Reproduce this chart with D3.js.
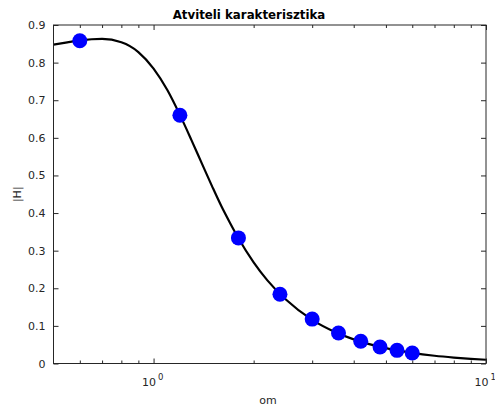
<!DOCTYPE html>
<html>
<head>
<meta charset="utf-8">
<script src="https://cdn.jsdelivr.net/npm/d3@7"></script>
<style>
  body { margin: 0; background: #fff; }
  svg text { font-family: "DejaVu Sans", sans-serif; }
</style>
</head>
<body>
<svg width="495" height="407"></svg>
<script>
// frequency response curve
var curveOm = [0.5, 0.55, 0.6, 0.7, 0.8, 0.9, 1.0, 1.1, 1.2, 1.3, 1.4, 1.5, 1.6, 1.7, 1.8, 2.0, 2.2, 2.5, 3, 3.5, 4, 5, 6, 7, 8, 9, 10];
var curveH = [0.848, 0.854, 0.859, 0.863, 0.854, 0.828, 0.784, 0.727, 0.661, 0.594, 0.530, 0.471, 0.418, 0.373, 0.333, 0.269, 0.221, 0.170, 0.116, 0.0845, 0.0642, 0.0407, 0.0281, 0.0206, 0.0158, 0.0124, 0.0100];

// measured points (blue dots)
var sampleOm = [0.6, 1.2, 1.8, 2.4, 3.0, 3.6, 4.2, 4.8, 5.4, 6.0];
var sampleH = [0.858, 0.660, 0.334, 0.184, 0.118, 0.081, 0.059, 0.044, 0.035, 0.028];

// ticks
var yTicks = [0, 0.1, 0.2, 0.3, 0.4, 0.5, 0.6, 0.7, 0.8, 0.9];
var xMajor = [1, 10];
var xMajorExp = ["0", "1"];
var xMinor = [0.6, 0.7, 0.8, 0.9, 2, 3, 4, 5, 6, 7, 8, 9];

var plot = { left: 53.5, right: 486, top: 25, bottom: 363.5 };
var axisColor = "#262626";

var svg = d3.select("svg");

var x = d3.scaleLog().domain([0.5, 10]).range([plot.left, plot.right]);
var y = d3.scaleLinear().domain([0, 0.9]).range([plot.bottom, plot.top]);

// curve
var line = d3.line()
    .x(function (d) { return x(d[0]); })
    .y(function (d) { return y(d[1]); })
    .curve(d3.curveMonotoneX);

svg.append("path")
    .datum(curveOm.map(function (o, i) { return [o, curveH[i]]; }))
    .attr("d", line)
    .attr("fill", "none")
    .attr("stroke", "#000")
    .attr("stroke-width", 2.2);

// dots
svg.selectAll("circle.pt")
    .data(sampleOm.map(function (o, i) { return [o, sampleH[i]]; }))
    .enter().append("circle")
    .attr("class", "pt")
    .attr("cx", function (d) { return x(d[0]); })
    .attr("cy", function (d) { return y(d[1]); })
    .attr("r", 7.5)
    .attr("fill", "#0000ff");

// box
svg.append("rect")
    .attr("x", plot.left).attr("y", plot.top)
    .attr("width", plot.right - plot.left).attr("height", plot.bottom - plot.top)
    .attr("fill", "none")
    .attr("stroke", axisColor)
    .attr("stroke-width", 1);

// y axis left + right
var yAxis = d3.axisLeft(y).tickValues(yTicks).tickSizeInner(-5).tickSizeOuter(0).tickPadding(8)
    .tickFormat(function (d) { return d === 0 ? "0" : d3.format(".1f")(d); });
var gy = svg.append("g").attr("transform", "translate(" + plot.left + ",0)").call(yAxis);
svg.append("g").attr("transform", "translate(" + plot.right + ",0)")
    .call(d3.axisRight(y).tickValues(yTicks).tickSizeInner(-5).tickSizeOuter(0).tickFormat(""));

// x axis bottom + top, majors
svg.append("g").attr("transform", "translate(0," + plot.bottom + ")")
    .call(d3.axisBottom(x).tickValues(xMajor).tickSizeInner(-5).tickSizeOuter(0).tickFormat(""));
svg.append("g").attr("transform", "translate(0," + plot.top + ")")
    .call(d3.axisTop(x).tickValues(xMajor).tickSizeInner(-5).tickSizeOuter(0).tickFormat(""));

// minors
svg.append("g").attr("transform", "translate(0," + plot.bottom + ")")
    .call(d3.axisBottom(x).tickValues(xMinor).tickSizeInner(-3).tickSizeOuter(0).tickFormat(""));
svg.append("g").attr("transform", "translate(0," + plot.top + ")")
    .call(d3.axisTop(x).tickValues(xMinor).tickSizeInner(-3).tickSizeOuter(0).tickFormat(""));

svg.selectAll(".domain").remove();
svg.selectAll(".tick line").attr("stroke", axisColor);
gy.selectAll("text").attr("fill", axisColor).style("font-size", "11px");

// 10^n labels
var xl = svg.append("g").selectAll("text")
    .data(xMajor)
    .enter().append("text")
    .attr("x", function (d) { return x(d) - 11.5; })
    .attr("y", plot.bottom + 22)
    .attr("fill", axisColor)
    .style("font-size", "11px");
xl.append("tspan").text("10");
xl.append("tspan")
    .attr("dy", -6).attr("dx", 2)
    .style("font-size", "8.5px")
    .text(function (d, i) { return xMajorExp[i]; });

// title and labels
svg.append("text")
    .attr("x", 249)
    .attr("y", 19)
    .attr("text-anchor", "middle")
    .style("font-size", "11.8px")
    .style("font-weight", "bold")
    .attr("fill", "#000")
    .text("Atviteli karakterisztika");

svg.append("text")
    .attr("x", 268)
    .attr("y", 404)
    .attr("text-anchor", "middle")
    .style("font-size", "11px")
    .attr("fill", axisColor)
    .text("om");

svg.append("text")
    .attr("transform", "translate(21," + (plot.top + plot.bottom) / 2 + ") rotate(-90)")
    .attr("text-anchor", "middle")
    .style("font-size", "11px")
    .attr("fill", axisColor)
    .text("|H|");
</script>
</body>
</html>
